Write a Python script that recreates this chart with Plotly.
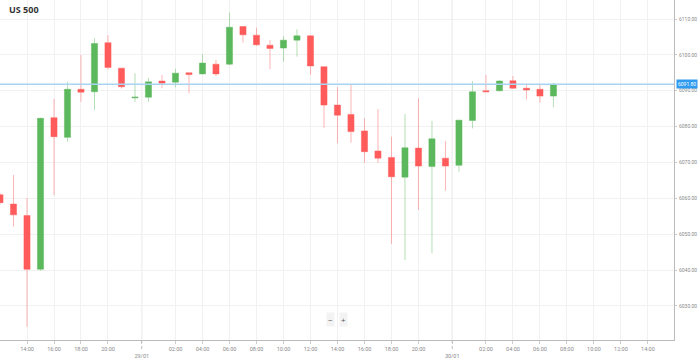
import plotly.graph_objects as go

title = "US 500"

# candle index positions (hourly candles, market break skipped)
idx = list(range(42))
opens = [6061.0, 6058.4, 6055.2, 6040.2, 6082.5, 6077.0, 6090.4, 6089.7, 6103.4, 6096.3,
         6088.0, 6088.2, 6092.7, 6092.4, 6095.0, 6094.7, 6097.4, 6097.4, 6107.9, 6105.5,
         6102.7, 6101.9, 6104.1, 6105.3, 6096.7, 6086.0, 6083.4, 6078.8, 6073.2, 6071.4,
         6065.9, 6074.0, 6068.9, 6071.2, 6069.2, 6081.7, 6090.0, 6090.0, 6092.8, 6090.7,
         6090.4, 6088.5]
highs = [6061.5, 6066.5, 6060.1, 6082.5, 6087.7, 6092.5, 6100.0, 6104.6, 6105.5, 6096.4,
         6094.9, 6093.6, 6094.4, 6096.1, 6095.0, 6100.2, 6098.6, 6111.8, 6108.0, 6107.6,
         6104.1, 6105.3, 6107.1, 6105.4, 6096.8, 6091.0, 6091.6, 6082.3, 6084.9, 6077.2,
         6083.5, 6087.9, 6081.6, 6076.0, 6081.9, 6092.7, 6094.4, 6093.0, 6094.1, 6091.6,
         6091.6, 6092.2]
lows = [6058.3, 6052.1, 6024.2, 6039.8, 6060.9, 6075.8, 6086.9, 6084.6, 6096.0, 6090.6,
        6086.9, 6086.9, 6090.7, 6091.0, 6089.3, 6094.6, 6094.1, 6097.2, 6103.4, 6102.5,
        6096.0, 6098.1, 6099.5, 6094.4, 6079.7, 6075.4, 6075.5, 6069.9, 6069.9, 6047.3,
        6042.8, 6056.8, 6044.7, 6062.1, 6067.4, 6079.5, 6089.6, 6089.8, 6090.5, 6087.6,
        6086.7, 6085.4]
closes = [6058.8, 6055.4, 6040.2, 6082.3, 6077.2, 6090.4, 6089.6, 6103.2, 6096.5, 6091.1,
          6088.2, 6092.5, 6092.1, 6094.9, 6094.5, 6097.7, 6094.7, 6107.7, 6105.6, 6102.8,
          6101.8, 6104.1, 6105.3, 6096.9, 6086.0, 6083.2, 6078.6, 6073.0, 6071.2, 6066.0,
          6074.1, 6069.0, 6076.6, 6069.0, 6081.8, 6089.7, 6089.7, 6092.7, 6090.7, 6090.2,
          6088.5, 6091.8]

# x-axis tick labels (positions in candle index units)
time_tick_pos = [2, 4, 6, 8, 13, 15, 17, 19, 21, 23, 25, 27, 29, 31,
                 36, 38, 40, 42, 44, 46, 48]
time_tick_txt = ["14:00", "16:00", "18:00", "20:00", "02:00", "04:00", "06:00", "08:00",
                 "10:00", "12:00", "14:00", "16:00", "18:00", "20:00",
                 "02:00", "04:00", "06:00", "08:00", "10:00", "12:00", "14:00"]
date_tick_pos = [10.5, 33.5]
date_tick_txt = ["29/01", "30/01"]

y_ticks = [6030, 6040, 6050, 6060, 6070, 6080, 6090, 6100, 6110]

GREEN = "#5cb85c"
RED = "#ff5b5b"

fig = go.Figure()
fig.add_trace(go.Candlestick(
    x=idx, open=opens, high=highs, low=lows, close=closes,
    increasing=dict(fillcolor=GREEN, line=dict(color="rgba(92,184,92,0.45)", width=1)),
    decreasing=dict(fillcolor=RED, line=dict(color="rgba(255,91,91,0.45)", width=1)),
    whiskerwidth=0, showlegend=False, hoverinfo="skip",
))

last = closes[-1]
shapes = []
for dp in date_tick_pos:
    shapes.append(dict(type="line", xref="x", yref="paper", x0=dp, x1=dp, y0=0, y1=1,
                       line=dict(color="#dedede", width=1), layer="below"))
    shapes.append(dict(type="line", xref="x", yref="paper", x0=dp, x1=dp, y0=0, y1=-0.03,
                       line=dict(color="#bbbbbb", width=1, dash="dot")))
shapes.append(dict(type="line", xref="paper", yref="y", x0=0, x1=1, y0=last, y1=last,
                   line=dict(color="#a9d3f3", width=1.5)))

annotations = [
    dict(text="<b>" + title + "</b>", xref="paper", yref="paper", x=0.011, y=0.972,
         xanchor="left", yanchor="middle", showarrow=False,
         font=dict(family="Open Sans", size=9, color="#333333")),
    dict(text=f"{last:.2f}", xref="paper", yref="y", x=1.003, y=last,
         xanchor="left", yanchor="middle", showarrow=False,
         bgcolor="#2e9bf0", borderpad=1,
         font=dict(family="Roboto", size=5, color="#ffffff")),
    dict(text="−", xref="paper", yref="paper", x=0.490, y=0.06, showarrow=False,
         xanchor="center", yanchor="middle", bgcolor="#f3f3f3", borderpad=1,
         font=dict(family="Open Sans", size=8, color="#555555")),
    dict(text="+", xref="paper", yref="paper", x=0.510, y=0.06, showarrow=False,
         xanchor="center", yanchor="middle", bgcolor="#f3f3f3", borderpad=1,
         font=dict(family="Open Sans", size=8, color="#555555")),
]

fig.update_layout(
    width=699, height=358,
    margin=dict(l=0, r=25, t=0, b=18),
    paper_bgcolor="white", plot_bgcolor="white",
    shapes=shapes, annotations=annotations,
    xaxis=dict(
        range=[0, 49.93], rangeslider=dict(visible=False),
        tickmode="array",
        tickvals=time_tick_pos + date_tick_pos,
        ticktext=time_tick_txt + ["<br>" + t for t in date_tick_txt],
        showgrid=True, gridcolor="#f1f1f1", gridwidth=1,
        ticks="outside", ticklen=3, tickcolor="#cccccc",
        showline=True, linecolor="#bbbbbb", linewidth=1,
        tickfont=dict(family="Roboto", size=5.5, color="#8a8a8a"),
        zeroline=False, fixedrange=True,
    ),
    yaxis=dict(
        range=[6020.5, 6115.3], side="right",
        tickmode="array", tickvals=y_ticks,
        ticktext=[f"{v:.2f}" for v in y_ticks],
        showgrid=True, gridcolor="#f1f1f1", gridwidth=1,
        ticks="outside", ticklen=2, tickcolor="#cccccc", ticklabelstandoff=1,
        showline=True, linecolor="#bbbbbb", linewidth=1,
        tickfont=dict(family="Roboto", size=5, color="#8a8a8a"),
        zeroline=False, fixedrange=True,
    ),
    boxgap=0.35,
)

fig.write_html("out.html", config={"displayModeBar": False},
               post_script="document.body.style.margin='0';document.body.style.padding='0';")
